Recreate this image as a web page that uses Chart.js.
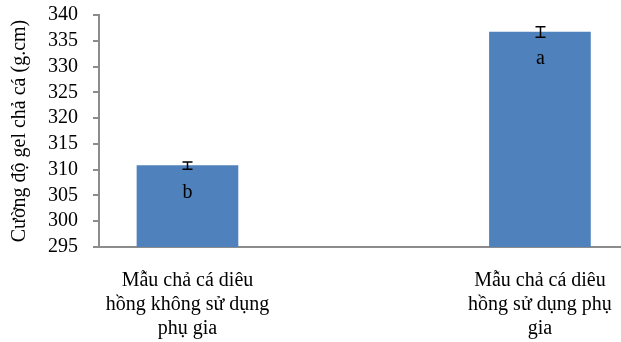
<!DOCTYPE html>
<html>
<head>
<meta charset="utf-8">
<script src="https://cdn.jsdelivr.net/npm/chart.js@4/dist/chart.umd.min.js"></script>
<style>
  html, body { margin: 0; padding: 0; background: #fff; overflow: hidden; }
  #wrap { width: 621px; height: 342px; }
</style>
</head>
<body>
<div id="wrap"><canvas id="gel"></canvas></div>
<script>
// Mẫu và kết quả đo cường độ gel
const categories = [
    ['Mẫu chả cá diêu', 'hồng không sử dụng', 'phụ gia'],
    ['Mẫu chả cá diêu', 'hồng sử dụng phụ', 'gia']
];
const gelValues = [310.8, 336.7];
const gelErrors = [0.7, 1.0];
const groupLetters = ['b', 'a'];
const yTicks = [295, 300, 305, 310, 315, 320, 325, 330, 335, 340];

const serif = '"Liberation Serif", "Times New Roman", serif';

// vẽ thanh sai số và chữ cái phân nhóm
const errorBars = {
    id: 'errorBars',
    afterDatasetsDraw(chart) {
        const { ctx, scales: { x, y } } = chart;
        ctx.save();
        ctx.strokeStyle = '#000';
        ctx.lineWidth = 1.5;
        gelValues.forEach((v, i) => {
            const px = Math.round(x.getPixelForValue(i)) + 0.5;
            const hi = y.getPixelForValue(v + gelErrors[i]);
            const lo = y.getPixelForValue(v - gelErrors[i]);
            ctx.beginPath();
            ctx.moveTo(px, hi); ctx.lineTo(px, lo);
            ctx.moveTo(px - 5, hi); ctx.lineTo(px + 5, hi);
            ctx.moveTo(px - 5, lo); ctx.lineTo(px + 5, lo);
            ctx.stroke();

            ctx.fillStyle = '#000';
            ctx.font = '20px ' + serif;
            ctx.textAlign = 'center';
            ctx.textBaseline = 'middle';
            ctx.fillText(groupLetters[i], px, y.getPixelForValue(v) + 27);
        });
        ctx.restore();
    }
};

new Chart(document.getElementById('gel'), {
    type: 'bar',
    data: {
        datasets: [{
            data: gelValues.map((v, i) => ({ x: i, y: v })),
            backgroundColor: '#4F81BD',
            borderWidth: 0,
            barThickness: 101
        }]
    },
    options: {
        responsive: true,
        maintainAspectRatio: false,
        animation: false,
        layout: { padding: { top: 15, right: 0, left: 0, bottom: 0 } },
        plugins: { legend: { display: false }, tooltip: { enabled: false } },
        scales: {
            x: {
                type: 'linear',
                offset: false,
                min: -0.251,
                max: 1.23,
                afterBuildTicks: s => { s.ticks = categories.map((c, i) => ({ value: i })); },
                afterFit: s => { s.height = 95; s.paddingLeft = 0; s.paddingRight = 0; },
                grid: { display: false, drawTicks: false },
                border: { color: '#8c8c8c', width: 2 },
                ticks: {
                    color: '#000',
                    font: { family: serif, size: 20 },
                    padding: 22,
                    maxRotation: 0,
                    autoSkip: false,
                    callback: v => categories[v]
                }
            },
            y: {
                min: 295,
                max: 340,
                afterBuildTicks: s => { s.ticks = yTicks.map(v => ({ value: v })); },
                afterFit: s => { s.width = 99; s.paddingTop = 0; s.paddingBottom = 0; },
                grid: { drawOnChartArea: false, drawTicks: true, tickLength: 6, color: '#8c8c8c', lineWidth: 2 },
                border: { color: '#8c8c8c', width: 2 },
                ticks: {
                    color: '#000',
                    font: { family: serif, size: 20 },
                    padding: 15,
                    autoSkip: false
                },
                title: {
                    display: true,
                    text: 'Cường độ gel chả cá (g.cm)',
                    color: '#000',
                    font: { family: serif, size: 20 },
                    padding: { top: 8, bottom: 0 }
                }
            }
        }
    },
    plugins: [errorBars]
});
</script>
</body>
</html>
